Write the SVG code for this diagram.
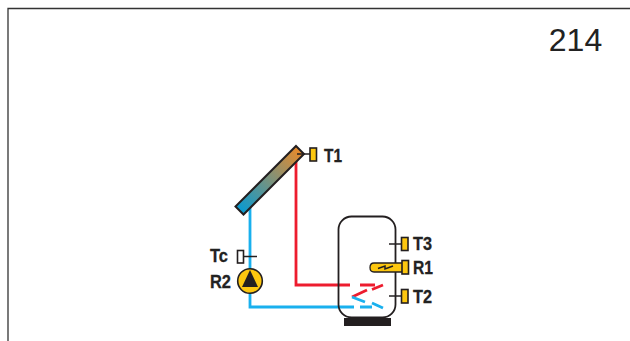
<svg xmlns="http://www.w3.org/2000/svg" width="630" height="341" viewBox="0 0 630 341">
<defs>
<linearGradient id="col" gradientUnits="userSpaceOnUse" x1="240" y1="210" x2="300" y2="150">
<stop offset="0" stop-color="#0a9ad0"/><stop offset="1" stop-color="#e98a2a"/>
</linearGradient>
</defs>
<style>
.lbl{font-family:"Liberation Sans",Arial,sans-serif;font-weight:bold;font-size:19px;fill:#222;stroke:#222;stroke-width:.3}
.k{fill:none;stroke:#231f20;stroke-width:1.500}
.sen{fill:#fdc70f;stroke:#231f20;stroke-width:1.600}
.red{fill:none;stroke:#ed1c2e;stroke-width:2.800}
.blue{fill:none;stroke:#19b0ee;stroke-width:2.800}
</style>
<rect width="630" height="341" fill="#fff"/>
<g id="frame"><path d="M8 341V8.500H630" fill="none" stroke="#333" stroke-width="1.300"/></g>
<text id="title" x="575.500" y="51" text-anchor="middle" font-family="Liberation Sans, Arial, sans-serif" font-size="32" fill="#222">214</text>
<g id="connectors">
<path class="blue" d="M250 207V307H354"/>
<path class="red" d="M296 158V285H350"/>
</g>
<g id="collector">
<path d="M296 146L304 154L243.500 214.500L235.500 206.500Z" fill="url(#col)" stroke="#231f20" stroke-width="2"/>
<path class="k" d="M297 154H310"/>
</g>
<g id="T1"><rect class="sen" x="310" y="148" width="6.500" height="13"/><text class="lbl" x="324" y="162" textLength="18" lengthAdjust="spacingAndGlyphs">T1</text></g>
<g id="Tc"><rect x="237.500" y="250.500" width="6" height="12.500" fill="#fff" stroke="#231f20" stroke-width="1.600"/><path class="k" d="M244 256.500H257"/><text class="lbl" x="210" y="262" textLength="18" lengthAdjust="spacingAndGlyphs">Tc</text></g>
<g id="R2"><circle cx="250" cy="281" r="12.300" fill="#fdc70f" stroke="#231f20" stroke-width="1.600"/><path d="M250 270L258 287H242Z" fill="#231f20"/><text class="lbl" x="210" y="288" textLength="21" lengthAdjust="spacingAndGlyphs">R2</text></g>
<g id="tank">
<rect x="338.500" y="216.500" width="57" height="101" rx="13" fill="none" stroke="#231f20" stroke-width="1.800"/>
<rect x="344" y="318" width="47" height="8" fill="#231f20"/>
</g>
<g id="coil">
<path class="red" d="M360 285H375M372 289.500L383 285M367 290L352 297"/>
<path class="blue" d="M352 297L365 302M360 307H372M372 303L383 308"/>
</g>
<g id="T3"><path class="k" d="M389 244H401"/><rect class="sen" x="401.500" y="237.500" width="6.500" height="13"/><text class="lbl" x="413" y="250" textLength="19" lengthAdjust="spacingAndGlyphs">T3</text></g>
<g id="R1"><path d="M403 263H374Q370 263 370 267.500Q370 272 374 272H403Z" fill="#fdc70f" stroke="#231f20" stroke-width="1.300"/><rect class="sen" x="402" y="260.500" width="6.500" height="13.500"/><path d="M378 268.500L385 266L385 269L393 266" fill="none" stroke="#231f20" stroke-width="1.500"/><text class="lbl" x="413" y="274" textLength="20" lengthAdjust="spacingAndGlyphs">R1</text></g>
<g id="T2"><path class="k" d="M389 296H401"/><rect class="sen" x="401.500" y="289.500" width="6.500" height="13.500"/><text class="lbl" x="413" y="303" textLength="19" lengthAdjust="spacingAndGlyphs">T2</text></g>
</svg>
